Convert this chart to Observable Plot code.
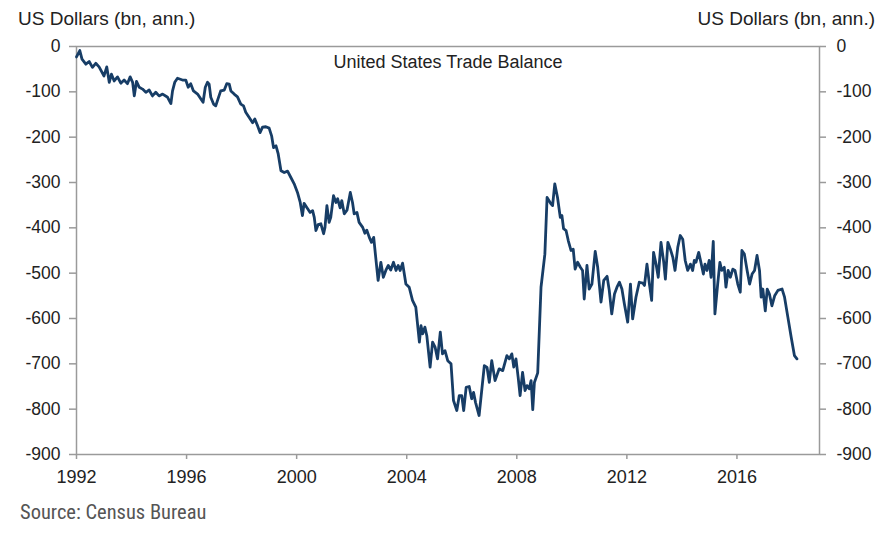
<!DOCTYPE html>
<html>
<head>
<meta charset="utf-8">
<script src="https://cdn.jsdelivr.net/npm/d3@7"></script>
<script src="https://cdn.jsdelivr.net/npm/@observablehq/plot@0.6"></script>
<style>
  html, body { margin: 0; padding: 0; background: #fff; }
  #wrap { position: relative; width: 895px; height: 535px; overflow: hidden; font-family: "Liberation Sans", Arial, sans-serif; }
  .ylab { position: absolute; top: 8px; font-size: 19px; line-height: 22px; color: #222; white-space: nowrap; }
  #chart { position: absolute; left: 0; top: 30px; }
  #caption { position: absolute; left: 20px; top: 500px; font-family: "Liberation Sans Narrow", "Roboto", sans-serif; font-stretch: condensed; font-size: 20.5px; line-height: 24px; color: #555; }
</style>
</head>
<body>
<div id="wrap">
  <div class="ylab" style="left:18px;">US Dollars (bn, ann.)</div>
  <div class="ylab" style="right:20px;">US Dollars (bn, ann.)</div>
  <div id="chart"></div>
  <div id="caption">Source: Census Bureau</div>
</div>
<script>
const title = "United States Trade Balance";
const xTicks = [1992, 1996, 2000, 2004, 2008, 2012, 2016];
const yTicks = [0, -100, -200, -300, -400, -500, -600, -700, -800, -900];

const dates = [
  1992.0, 1992.12, 1992.2, 1992.34, 1992.46, 1992.58, 1992.7, 1992.82, 1993.0, 1993.1,
  1993.19, 1993.27, 1993.37, 1993.49, 1993.61, 1993.73, 1993.85, 1993.95, 1994.04, 1994.1,
  1994.18, 1994.28, 1994.4, 1994.52, 1994.64, 1994.76, 1994.88, 1995.0, 1995.13, 1995.31,
  1995.43, 1995.49, 1995.57, 1995.67, 1995.85, 1995.97, 1996.06, 1996.15, 1996.25, 1996.4,
  1996.52, 1996.6, 1996.68, 1996.76, 1996.82, 1996.88, 1996.98, 1997.06, 1997.14, 1997.24,
  1997.37, 1997.46, 1997.55, 1997.61, 1997.73, 1997.85, 1997.97, 1998.07, 1998.15, 1998.27,
  1998.4, 1998.48, 1998.58, 1998.67, 1998.76, 1998.88, 1999.0, 1999.09, 1999.16, 1999.25,
  1999.33, 1999.43, 1999.55, 1999.67, 1999.79, 1999.91, 2000.03, 2000.13, 2000.21, 2000.27,
  2000.37, 2000.49, 2000.58, 2000.64, 2000.7, 2000.78, 2000.88, 2000.98, 2001.03, 2001.1,
  2001.18, 2001.24, 2001.34, 2001.43, 2001.49, 2001.58, 2001.64, 2001.73, 2001.83, 2001.95,
  2002.03, 2002.09, 2002.19, 2002.27, 2002.4, 2002.48, 2002.55, 2002.64, 2002.72, 2002.8,
  2002.88, 2002.96, 2003.06, 2003.15, 2003.24, 2003.33, 2003.42, 2003.52, 2003.61, 2003.69,
  2003.76, 2003.85, 2003.97, 2004.09, 2004.21, 2004.33, 2004.46, 2004.52, 2004.58, 2004.66,
  2004.73, 2004.85, 2004.94, 2005.03, 2005.12, 2005.22, 2005.3, 2005.39, 2005.49, 2005.61,
  2005.7, 2005.82, 2005.91, 2006.0, 2006.07, 2006.16, 2006.27, 2006.36, 2006.43, 2006.5,
  2006.63, 2006.82, 2006.92, 2007.0, 2007.09, 2007.21, 2007.36, 2007.49, 2007.64, 2007.73,
  2007.82, 2007.89, 2007.97, 2008.05, 2008.12, 2008.21, 2008.3, 2008.37, 2008.45, 2008.52,
  2008.58, 2008.64, 2008.76, 2008.88, 2009.02, 2009.1, 2009.24, 2009.3, 2009.38, 2009.48,
  2009.58, 2009.64, 2009.7, 2009.79, 2009.87, 2009.97, 2010.05, 2010.12, 2010.21, 2010.31,
  2010.39, 2010.45, 2010.55, 2010.63, 2010.73, 2010.85, 2010.94, 2011.06, 2011.16, 2011.28,
  2011.36, 2011.45, 2011.55, 2011.64, 2011.73, 2011.82, 2011.91, 2012.03, 2012.13, 2012.21,
  2012.33, 2012.45, 2012.58, 2012.64, 2012.73, 2012.82, 2012.9, 2012.97, 2013.06, 2013.14,
  2013.24, 2013.34, 2013.4, 2013.49, 2013.58, 2013.67, 2013.75, 2013.85, 2013.94, 2014.03,
  2014.12, 2014.21, 2014.31, 2014.39, 2014.45, 2014.51, 2014.61, 2014.69, 2014.78, 2014.84,
  2014.91, 2014.99, 2015.06, 2015.14, 2015.2, 2015.3, 2015.38, 2015.45, 2015.54, 2015.6,
  2015.68, 2015.76, 2015.85, 2015.93, 2016.03, 2016.12, 2016.18, 2016.27, 2016.37, 2016.46,
  2016.55, 2016.64, 2016.73, 2016.82, 2016.88, 2016.94, 2017.03, 2017.1, 2017.18, 2017.27,
  2017.37, 2017.49, 2017.64, 2017.73, 2017.85, 2017.97, 2018.09, 2018.18
];
const balance = [
  -23, -9, -28, -39, -33, -46, -37, -45, -65, -45,
  -79, -61, -76, -67, -81, -74, -82, -67, -79, -109,
  -77, -90, -94, -101, -96, -109, -101, -109, -105, -112,
  -126, -98, -79, -70, -74, -74, -90, -82, -98, -105,
  -116, -123, -90, -79, -83, -112, -127, -131, -116, -98,
  -96, -82, -83, -98, -105, -111, -127, -131, -145, -156,
  -168, -160, -175, -190, -178, -177, -180, -197, -223, -219,
  -237, -274, -278, -275, -289, -303, -322, -344, -373, -346,
  -355, -366, -362, -377, -406, -393, -391, -413, -399, -351,
  -388, -377, -329, -344, -336, -356, -340, -369, -361, -322,
  -344, -369, -366, -388, -399, -412, -405, -421, -432, -421,
  -469, -516, -476, -509, -494, -483, -493, -476, -494, -483,
  -494, -478, -524, -531, -560, -575, -652, -616, -634, -619,
  -638, -707, -652, -663, -689, -630, -678, -671, -693, -700,
  -781, -803, -770, -770, -803, -752, -750, -777, -763, -785,
  -814, -704, -708, -741, -693, -737, -711, -715, -682, -689,
  -678, -707, -689, -730, -770, -719, -759, -748, -755, -737,
  -801, -741, -720, -531, -458, -333, -347, -351, -303, -333,
  -377, -373, -402, -406, -428, -450, -447, -491, -476, -487,
  -494, -557, -483, -535, -524, -452, -487, -564, -516, -507,
  -538, -590, -546, -531, -520, -535, -568, -608, -524, -601,
  -553, -520, -522, -527, -480, -524, -560, -454, -480, -509,
  -432, -476, -513, -432, -447, -465, -494, -443, -417, -425,
  -472, -494, -480, -494, -472, -476, -454, -476, -502, -480,
  -494, -472, -509, -430, -590, -524, -476, -494, -487, -531,
  -494, -509, -491, -494, -524, -542, -450, -458, -494, -524,
  -502, -494, -461, -494, -553, -535, -583, -535, -546, -572,
  -550, -538, -535, -553, -597, -641, -682, -689
];

const data = dates.map((t, i) => ({t, v: balance[i]}));

const chart = Plot.plot({
  width: 895,
  height: 460,
  marginTop: 16,
  marginBottom: 36,
  marginLeft: 76,
  marginRight: 76,
  style: {fontFamily: "'Liberation Sans', Arial, sans-serif", fontSize: "18px", color: "#222", background: "transparent"},
  x: {type: "linear", domain: [1992, 2019]},
  y: {type: "linear", domain: [-900, 0]},
  marks: [
    Plot.frame({stroke: "#9a9a9a", strokeWidth: 1.5}),
    Plot.axisX({ticks: xTicks, tickFormat: d => String(d), tickSize: 5, tickPadding: 11, stroke: "#9a9a9a", strokeWidth: 1.5, fill: "#222", label: null}),
    Plot.axisY({anchor: "left", ticks: yTicks, tickFormat: d => String(d), tickSize: 7, tickPadding: 9, fontSize: 17.5, stroke: "#9a9a9a", strokeWidth: 1.5, fill: "#222", label: null}),
    Plot.axisY({anchor: "right", ticks: yTicks, tickFormat: d => String(d), tickSize: 6, tickPadding: 11, fontSize: 17.5, stroke: "#9a9a9a", strokeWidth: 1.5, fill: "#222", label: null}),
    Plot.line(data, {x: "t", y: "v", stroke: "#173d66", strokeWidth: 2.8, strokeLinejoin: "round"}),
    Plot.text([title], {frameAnchor: "top", lineAnchor: "middle", dy: 16, text: d => d, fontSize: 18, fill: "#222"})
  ]
});
document.getElementById("chart").appendChild(chart);
</script>
</body>
</html>
